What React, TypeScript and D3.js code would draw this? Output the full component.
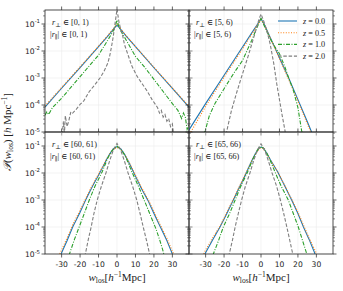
import { line, scaleLinear, scaleLog } from 'd3';

// panel selections (r_perp, r_par bins)
const panelBins = ['[0, 1)', '[5, 6)', '[60, 61)', '[65, 66)'];
const redshifts = ['0.0', '0.5', '1.0', '2.0'];
const colors = ['#1f77b4', '#ff7f0e', '#2ca02c', '#7f7f7f'];
const dashes = ['', '1,1.6', '4,1.5,1,1.5', '3.5,1.8'];

const xTicks = [-30, -20, -10, 0, 10, 20, 30];
const yTicks = [1e-1, 1e-2, 1e-3, 1e-4, 1e-5];
const yTickExp = ['-1', '-2', '-3', '-4', '-5'];

// [w_los, log10 P]
const p1z0: [number, number][] = [[-39, -4.08], [-30, -3.38], [-20, -2.62], [-10, -1.84], [-5, -1.45], [-2, -1.2], [-1, -1.12], [0, -1.05], [1, -1.12], [2, -1.2], [5, -1.45], [10, -1.84], [20, -2.62], [30, -3.38], [39, -4.08]];
const p1z05: [number, number][] = [[-39, -4.04], [-30, -3.35], [-20, -2.59], [-10, -1.82], [-5, -1.43], [-2, -1.18], [0, -1.0], [2, -1.18], [5, -1.44], [10, -1.83], [20, -2.6], [30, -3.37], [39, -4.06]];
const p1z1: [number, number][] = [[-39, -4.38], [-38, -4.25], [-37, -4.35], [-35, -4.1], [-30, -3.75], [-25, -3.35], [-20, -2.95], [-15, -2.55], [-10, -2.15], [-5, -1.6], [-2, -1.25], [-1, -1.1], [0, -0.85], [1, -1.1], [2, -1.25], [5, -1.6], [10, -2.2], [15, -2.6], [20, -3.05], [25, -3.5], [30, -3.95], [33, -4.2], [35, -4.5], [36, -4.3], [37, -4.45], [38, -4.9], [39, -4.75]];
const p1z2: [number, number][] = [[-30, -5.3], [-29, -4.6], [-28.5, -5.1], [-28, -4.4], [-27, -4.8], [-26, -4.55], [-25, -4.25], [-24, -4.3], [-22, -4.15], [-20, -3.98], [-18, -3.85], [-15, -3.5], [-12, -3.25], [-9, -2.98], [-7, -2.75], [-5, -2.45], [-4, -2.2], [-3, -1.85], [-2, -1.45], [-1, -0.95], [0, -0.45], [1, -0.9], [2, -1.2], [3, -1.4], [4, -1.75], [5.5, -2.05], [8, -2.55], [11, -2.95], [14, -3.25], [16.5, -3.5], [19, -3.8], [22, -4.1], [23, -4.3], [24, -4.2], [25, -4.45], [26, -4.35], [27, -4.6], [28, -4.5], [29, -4.8], [30, -4.7], [31, -5.3]];

const p2z0: [number, number][] = [[-39, -4.92], [-30, -3.95], [-20, -2.9], [-10, -1.85], [-5, -1.33], [-2, -1.02], [0, -0.8], [2, -1.05], [5, -1.5], [10, -2.25], [15, -3.0], [20, -3.8], [25, -4.6], [28, -5.1]];
const p2z05: [number, number][] = [[-38, -5.0], [-30, -4.05], [-20, -2.97], [-10, -1.92], [-5, -1.38], [-2, -1.04], [0, -0.82], [2, -1.07], [5, -1.52], [10, -2.28], [15, -3.05], [20, -3.86], [25, -4.68], [27.5, -5.1]];
const p2z1: [number, number][] = [[-31, -5.1], [-30, -4.9], [-28, -4.4], [-25, -3.95], [-20, -3.4], [-15, -2.85], [-10, -2.35], [-5, -1.6], [-2, -1.1], [0, -0.8], [2, -1.1], [5, -1.55], [8, -1.9], [10, -2.1], [13, -2.6], [15, -3.0], [17.5, -3.45], [20, -4.1], [22, -4.95], [23, -5.2]];
const p2z2: [number, number][] = [[-19, -5.1], [-18, -4.8], [-16, -4.2], [-13, -3.5], [-10.5, -2.95], [-7, -2.2], [-3.3, -1.35], [-1, -0.8], [0, -0.63], [1, -0.8], [3, -1.2], [5, -1.75], [7, -2.5], [8.5, -3.2], [10, -3.8], [11.5, -4.4], [13, -4.95], [13.5, -5.2]];

const p3z0: [number, number][] = [[-31, -5.15], [-30, -4.95], [-27, -4.5], [-24, -4.0], [-20, -3.45], [-17, -3.0], [-13, -2.45], [-9, -1.95], [-6, -1.55], [-4, -1.3], [-2, -1.1], [0, -1.02], [2, -1.1], [4, -1.3], [6, -1.55], [9, -1.97], [13, -2.55], [17, -3.05], [20, -3.5], [23.5, -4.0], [27, -4.5], [30, -5.0], [31, -5.15]];
const p3z05: [number, number][] = [[-31, -5.0], [-30, -4.85], [-27, -4.4], [-24, -3.92], [-20, -3.38], [-17, -2.95], [-13, -2.4], [-9, -1.92], [-6, -1.53], [-4, -1.3], [-2, -1.12], [0, -1.05], [2, -1.12], [4, -1.3], [6, -1.53], [9, -1.94], [13, -2.5], [17, -3.0], [20, -3.43], [23.5, -3.93], [27, -4.42], [30, -4.9], [31, -5.05]];
const p3z1: [number, number][] = [[-26, -5.05], [-25, -4.85], [-23, -4.45], [-20.5, -4.0], [-18, -3.55], [-15, -3.0], [-12, -2.5], [-8, -1.95], [-5, -1.45], [-3, -1.2], [0, -1.0], [3, -1.2], [5, -1.45], [8, -1.95], [12, -2.55], [15, -3.05], [18, -3.55], [21, -4.05], [23, -4.45], [25, -4.9], [25.5, -5.05]];
const p3z2: [number, number][] = [[-17.5, -5.1], [-17, -4.95], [-15.5, -4.45], [-14, -4.0], [-12.5, -3.5], [-10.7, -3.0], [-8.5, -2.5], [-6, -2.0], [-4, -1.55], [-2, -1.15], [0, -0.9], [2, -1.15], [4, -1.55], [6, -2.0], [8.5, -2.5], [10.7, -3.0], [12.5, -3.5], [14.2, -4.0], [16, -4.5], [17.5, -4.95], [18, -5.1]];

const p4z0: [number, number][] = [[-31, -5.1], [-30.4, -5.0], [-26, -4.45], [-22.2, -4.0], [-18.5, -3.5], [-15, -3.0], [-11.5, -2.5], [-8, -2.0], [-5, -1.55], [-3, -1.28], [-1, -1.08], [0, -1.04], [1, -1.06], [3, -1.25], [5, -1.5], [9, -1.95], [13, -2.5], [16.6, -3.0], [20, -3.5], [23, -4.0], [26, -4.45], [29.3, -5.0], [30, -5.1]];
const p4z05: [number, number][] = [[-31, -5.0], [-30, -4.85], [-26, -4.38], [-22, -3.95], [-18.5, -3.45], [-15, -2.97], [-11.5, -2.47], [-8, -1.98], [-5, -1.55], [-3, -1.3], [-1, -1.1], [0, -1.07], [1, -1.08], [3, -1.27], [5, -1.52], [9, -1.95], [13, -2.48], [16.6, -2.97], [20, -3.45], [23, -3.93], [26, -4.4], [29.5, -4.9], [30.5, -5.1]];
const p4z1: [number, number][] = [[-26, -5.05], [-25.8, -5.0], [-23, -4.5], [-20.4, -4.0], [-17, -3.5], [-14, -3.0], [-11, -2.5], [-7.5, -2.0], [-4.5, -1.5], [-2, -1.15], [0, -1.02], [2, -1.12], [4.5, -1.45], [7.5, -1.95], [11, -2.5], [14.8, -3.0], [17.5, -3.5], [20.2, -4.0], [22.5, -4.5], [24.8, -5.0], [25.2, -5.1]];
const p4z2: [number, number][] = [[-17.5, -5.1], [-17.2, -5.0], [-15.5, -4.5], [-14, -4.0], [-12.3, -3.5], [-10.5, -3.0], [-8.5, -2.5], [-6, -2.0], [-4, -1.55], [-2, -1.15], [0, -0.92], [2, -1.15], [4, -1.55], [6, -2.0], [8.5, -2.5], [10.5, -3.0], [12.3, -3.5], [14, -4.0], [15.6, -4.5], [17.2, -5.0], [17.5, -5.1]];

const panelSeries = [
  [p1z0, p1z05, p1z1, p1z2],
  [p2z0, p2z05, p2z1, p2z2],
  [p3z0, p3z05, p3z1, p3z2],
  [p4z0, p4z05, p4z1, p4z2],
];

const X0 = 45;
const PW = 144;
const Y0 = 10;
const PH = 122;
const serif = '"Liberation Serif", "DejaVu Serif", serif';
const sans = '"DejaVu Sans", sans-serif';

function Panel({ idx }: { idx: number }) {
  const col = idx % 2;
  const row = Math.floor(idx / 2);
  const left = X0 + col * PW;
  const top = Y0 + row * PH;
  const x = scaleLinear().domain([-39, 39]).range([left, left + PW]);
  const y = scaleLog().domain([1e-5, 0.33]).range([top + PH, top]);
  const path = line<[number, number]>()
    .x((d) => x(d[0]))
    .y((d) => y(Math.pow(10, d[1])));
  const minor: number[] = [];
  for (let e = -5; e <= -1; e++) {
    for (let m = 2; m <= 9; m++) {
      const v = m * Math.pow(10, e);
      if (v < 0.33) minor.push(v);
    }
  }
  const clipId = `clip${idx}`;
  const bin = panelBins[idx];
  return (
    <g>
      <clipPath id={clipId}>
        <rect x={left} y={top} width={PW} height={PH} />
      </clipPath>
      {xTicks.map((t) => (
        <line key={`gx${t}`} x1={x(t)} x2={x(t)} y1={top} y2={top + PH} stroke="#ececec" strokeWidth={0.6} />
      ))}
      {yTicks.map((t) => (
        <line key={`gy${t}`} x1={left} x2={left + PW} y1={y(t)} y2={y(t)} stroke="#ececec" strokeWidth={0.6} />
      ))}
      <g clipPath={`url(#${clipId})`}>
        {panelSeries[idx].map((s, i) => (
          <path key={i} d={path(s) ?? ''} fill="none" stroke={colors[i]} strokeWidth={1.1} strokeDasharray={dashes[i]} />
        ))}
      </g>
      <rect x={left} y={top} width={PW} height={PH} fill="none" stroke="#222" strokeWidth={0.8} />
      {xTicks.map((t) => (
        <g key={`tx${t}`} stroke="#222" strokeWidth={0.7}>
          <line x1={x(t)} x2={x(t)} y1={top + PH} y2={top + PH + 3.5} />
          <line x1={x(t)} x2={x(t)} y1={top} y2={top - 3.5} />
        </g>
      ))}
      {yTicks.map((t) => (
        <g key={`ty${t}`} stroke="#222" strokeWidth={0.7}>
          <line x1={left} x2={left - 3.5} y1={y(t)} y2={y(t)} />
          <line x1={left + PW} x2={left + PW + 3.5} y1={y(t)} y2={y(t)} />
        </g>
      ))}
      {minor.map((t) => (
        <g key={`my${t}`} stroke="#222" strokeWidth={0.5}>
          <line x1={left} x2={left - 2} y1={y(t)} y2={y(t)} />
          <line x1={left + PW} x2={left + PW + 2} y1={y(t)} y2={y(t)} />
        </g>
      ))}
      {row === 1 &&
        xTicks.map((t) => (
          <text key={`lx${t}`} x={x(t)} y={top + PH + 12.5} textAnchor="middle" fontFamily={sans} fontSize={7.6} fill="#222">
            {t}
          </text>
        ))}
      {col === 0 &&
        yTicks.map((t, i) => (
          <text key={`ly${t}`} x={left - 5} y={y(t) + 3} textAnchor="end" fontFamily={sans} fontSize={7.6} fill="#222">
            10<tspan dy={-3.5} fontSize={5.4}>{yTickExp[i]}</tspan>
          </text>
        ))}
      <text x={left + 7} y={top + 15} fontFamily={serif} fontSize={8.2} fill="#222">
        <tspan fontStyle="italic">r</tspan>
        <tspan dy={1.8} fontSize={6}>⊥</tspan>
        <tspan dy={-1.8}> ∈ {bin}</tspan>
      </text>
      <text x={left + 5} y={top + 27} fontFamily={serif} fontSize={8.2} fill="#222">
        |<tspan fontStyle="italic">r</tspan>
        <tspan dy={1.8} fontSize={6}>∥</tspan>
        <tspan dy={-1.8}>| ∈ {bin}</tspan>
      </text>
    </g>
  );
}

function Legend() {
  const lx = 278;
  const ly = 21;
  return (
    <g>
      {redshifts.map((z, i) => (
        <g key={z}>
          <line x1={lx} x2={lx + 19} y1={ly + i * 11.7} y2={ly + i * 11.7} stroke={colors[i]} strokeWidth={1.1} strokeDasharray={dashes[i]} />
          <text x={lx + 25} y={ly + i * 11.7 + 2.8} fontFamily={serif} fontSize={8.2} fill="#222">
            <tspan fontStyle="italic">z</tspan> = {z}
          </text>
        </g>
      ))}
    </g>
  );
}

export default function App() {
  return (
    <svg width={343} height={291} style={{ position: 'absolute', left: 0, top: 0, background: '#fff' }}>
      {[0, 1, 2, 3].map((i) => (
        <Panel key={i} idx={i} />
      ))}
      <Legend />
      {[0, 1].map((c) => (
        <text key={c} x={X0 + c * PW + PW / 2} y={281} textAnchor="middle" fontFamily={serif} fontSize={11} fill="#222">
          <tspan fontStyle="italic">w</tspan>
          <tspan dy={2} fontSize={7.5}>los</tspan>
          <tspan dy={-2}>[</tspan>
          <tspan fontStyle="italic">h</tspan>
          <tspan dy={-4} fontSize={7.5}>−1</tspan>
          <tspan dy={4}>Mpc]</tspan>
        </text>
      ))}
      <text transform={`translate(11, ${Y0 + PH}) rotate(-90)`} textAnchor="middle" fontFamily={serif} fontSize={11} fill="#222">
        <tspan fontStyle="italic">𝒫</tspan>(<tspan fontStyle="italic">w</tspan>
        <tspan dy={2} fontSize={7.5}>los</tspan>
        <tspan dy={-2}>) [</tspan>
        <tspan fontStyle="italic">h</tspan> Mpc
        <tspan dy={-4} fontSize={7.5}>−1</tspan>
        <tspan dy={4}>]</tspan>
      </text>
    </svg>
  );
}
